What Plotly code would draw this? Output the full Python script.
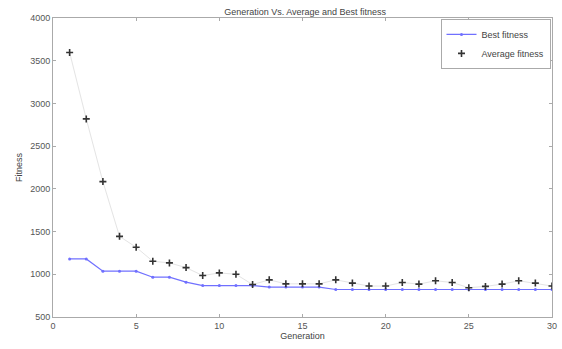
import plotly.graph_objects as go

generations = list(range(1, 31))
best_fitness = [1180, 1180, 1036, 1036, 1036, 966, 966, 908, 868, 868,
                868, 868, 850, 850, 850, 850, 822, 822, 822, 822,
                822, 822, 822, 822, 822, 822, 822, 822, 822, 822]
avg_fitness = [3596, 2819, 2085, 1444, 1316, 1153, 1133, 1078, 985, 1016,
               1000, 880, 935, 888, 888, 888, 935, 897, 862, 862,
               904, 885, 924, 904, 843, 858, 885, 924, 897, 862]

x_ticks = [0, 5, 10, 15, 20, 25, 30]
y_ticks = [500, 1000, 1500, 2000, 2500, 3000, 3500, 4000]

font = "Liberation Sans, Arial, sans-serif"

fig = go.Figure()
fig.add_trace(go.Scatter(
    x=generations, y=avg_fitness, mode="lines",
    line=dict(color="#e4e4e4", width=1),
    showlegend=False, hoverinfo="skip"))
fig.add_trace(go.Scatter(
    x=generations, y=best_fitness, mode="lines+markers", name="Best fitness",
    line=dict(color="#7070ff", width=1.2),
    marker=dict(color="#7070ff", size=3, symbol="circle")))
fig.add_trace(go.Scatter(
    x=generations, y=avg_fitness, mode="markers", name="Average fitness",
    marker=dict(symbol="cross-thin", size=5, line=dict(color="#333333", width=1.6))))

axis_common = dict(
    showgrid=False, zeroline=False, showline=True, linecolor="#aaaaaa", linewidth=1,
    mirror="ticks", ticks="inside", ticklen=3, tickcolor="#aaaaaa",
    tickfont=dict(family=font, size=9, color="#555555"))

fig.update_layout(
    width=562, height=349,
    margin=dict(l=53, r=5, t=18, b=32),
    paper_bgcolor="white", plot_bgcolor="white",
    title=dict(text="Generation Vs. Average and Best fitness", x=0.543, xanchor="center",
               y=0.975, yanchor="top",
               font=dict(family=font, size=9, color="#444444")),
    xaxis=dict(range=[0, 30.001], tickvals=x_ticks,
               title=dict(text="Generation", standoff=2,
                          font=dict(family=font, size=9, color="#444444")),
               **axis_common),
    yaxis=dict(range=[500, 4000], tickvals=y_ticks,
               title=dict(text="Fitness", standoff=6,
                          font=dict(family=font, size=9, color="#444444")),
               **axis_common),
    legend=dict(x=0.997, y=0.997, xanchor="right", yanchor="top",
                bgcolor="white", bordercolor="#aaaaaa", borderwidth=1,
                font=dict(family=font, size=9, color="#444444"),
                tracegroupgap=0, itemwidth=30),
)

fig.write_html("out.html")
